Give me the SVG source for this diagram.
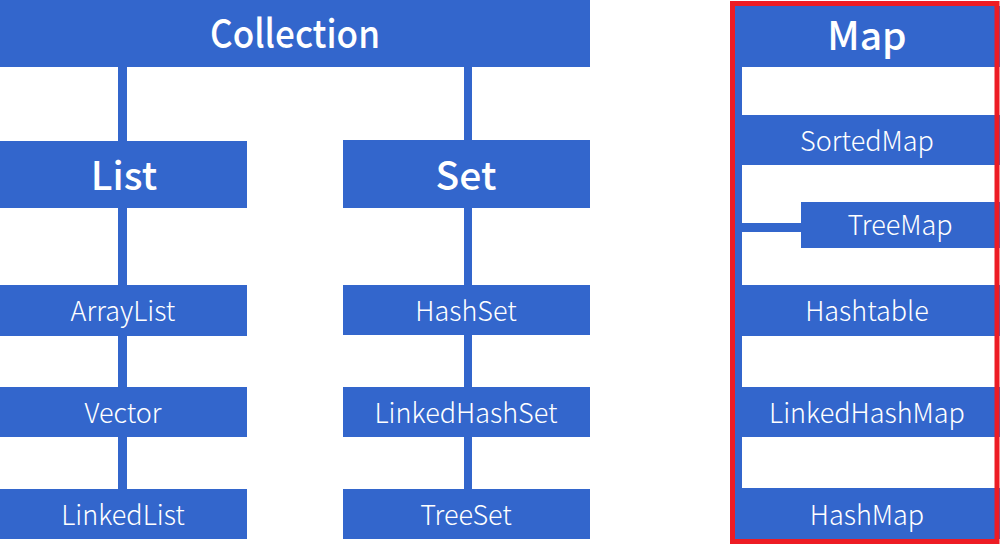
<svg xmlns="http://www.w3.org/2000/svg" width="1000" height="551" viewBox="0 0 1000 551">
<style>
.box{fill:#3366cc}
.line{fill:#3366cc}
.t{fill:#ffffff;font-family:"Noto Sans CJK KR","Noto Sans",sans-serif;text-anchor:middle}
.big{font-size:39px;font-weight:500}
.small{font-size:27px;font-weight:300}
</style>
<rect width="1000" height="551" fill="#ffffff"/>
<g id="connectors">
<rect class="line" x="118" y="66" width="9" height="76"/>
<rect class="line" x="118" y="207" width="9" height="79"/>
<rect class="line" x="118" y="335" width="9" height="53"/>
<rect class="line" x="118" y="436" width="9" height="54"/>
<rect class="line" x="464" y="66" width="8" height="75"/>
<rect class="line" x="464" y="207" width="8" height="79"/>
<rect class="line" x="464" y="334" width="8" height="54"/>
<rect class="line" x="464" y="436" width="8" height="54"/>
<rect class="line" x="735" y="6" width="7" height="534"/>
<rect class="line" x="741" y="223" width="61" height="9"/>
</g>
<g id="collection"><rect class="box" x="0" y="0" width="590" height="67"/><text class="t big" x="295" y="48" textLength="170" lengthAdjust="spacingAndGlyphs">Collection</text></g>
<g id="list"><rect class="box" x="0" y="141" width="247" height="67"/><text class="t big" x="124" y="190">List</text></g>
<g id="set"><rect class="box" x="343" y="140" width="247" height="68"/><text class="t big" x="466" y="190">Set</text></g>
<g id="arraylist"><rect class="box" x="0" y="285" width="247" height="51"/><text class="t small" x="123" y="321">ArrayList</text></g>
<g id="vector"><rect class="box" x="0" y="387" width="247" height="50"/><text class="t small" x="123" y="423">Vector</text></g>
<g id="linkedlist"><rect class="box" x="0" y="489" width="247" height="50"/><text class="t small" x="123" y="525">LinkedList</text></g>
<g id="hashset"><rect class="box" x="343" y="285" width="247" height="50"/><text class="t small" x="466" y="321">HashSet</text></g>
<g id="linkedhashset"><rect class="box" x="343" y="387" width="247" height="50"/><text class="t small" x="466" y="423">LinkedHashSet</text></g>
<g id="treeset"><rect class="box" x="343" y="489" width="247" height="50"/><text class="t small" x="466" y="525">TreeSet</text></g>
<g id="map"><rect class="box" x="735" y="6" width="265" height="61"/><text class="t big" x="867" y="50">Map</text></g>
<g id="sortedmap"><rect class="box" x="735" y="115" width="265" height="50"/><text class="t small" x="867" y="151">SortedMap</text></g>
<g id="treemap"><rect class="box" x="801" y="202" width="199" height="46"/><text class="t small" x="900" y="235">TreeMap</text></g>
<g id="hashtable"><rect class="box" x="735" y="285" width="265" height="51"/><text class="t small" x="867" y="321">Hashtable</text></g>
<g id="linkedhashmap"><rect class="box" x="735" y="387" width="265" height="50"/><text class="t small" x="867" y="423">LinkedHashMap</text></g>
<g id="hashmap"><rect class="box" x="735" y="488" width="265" height="51"/><text class="t small" x="867" y="525">HashMap</text></g>
<g id="map-frame"><rect x="732.5" y="3.5" width="264.5" height="538" fill="none" stroke="#ed1c24" stroke-width="5"/></g>
</svg>
